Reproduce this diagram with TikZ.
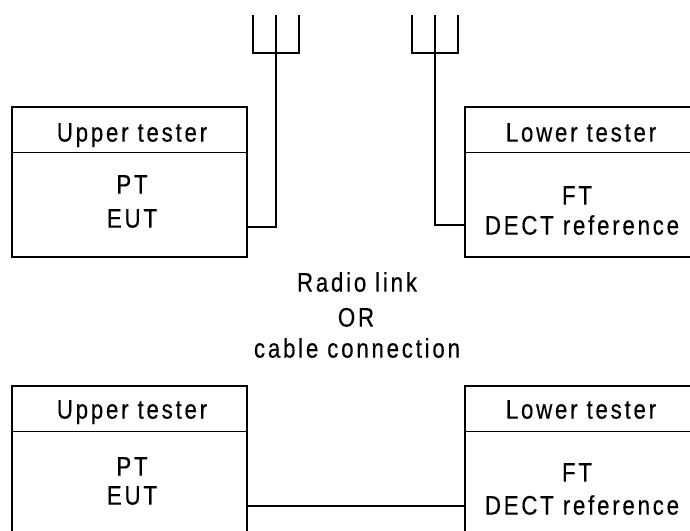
\documentclass[tikz,border=0pt]{standalone}
\usepackage{fontspec}
\setmainfont{Liberation Sans}[LetterSpace=10.4,FakeStretch=0.83,FakeBold=0.4]
\begin{document}
\begin{tikzpicture}[x=1pt,y=-1pt,
  wire/.style={line width=1.6pt,line cap=butt},
  testerbox/.style={draw,line width=1.6pt,minimum width=235pt,minimum height=150pt,anchor=north west,inner sep=0pt,outer sep=0pt},
  lbl/.style={anchor=base,inner sep=0pt,font=\fontsize{26.8}{33}\selectfont}]
\useasboundingbox (0,0) rectangle (690,530);
\clip (0,0) rectangle (690,530);
% boxes
\node[testerbox] (tl) at (12,107) {};
\node[testerbox] (tr) at (465,107) {};
\node[testerbox,minimum height=170pt] (bl) at (12,386) {};
\node[testerbox,minimum height=170pt] (br) at (465,386) {};
\foreach \b in {tl,tr,bl,br}
  \draw[wire] ([yshift=-45.5pt]\b.north west) -- ([yshift=-45.5pt]\b.north east);
% texts
\node[lbl] (tlh) at (132,141.6) {Upper tester};
\node[lbl] (tl1) at (132,193.6) {PT};
\node[lbl] (tl2) at (132,227.6) {EUT};
\node[lbl] (trh) at (581,141.6) {Lower tester};
\node[lbl] (tr1) at (577,204.6) {FT};
\node[lbl] (tr2) at (582,234.6) {DECT reference};
\node[lbl] (m1) at (357,291.6) {Radio link};
\node[lbl] (m2) at (356,326.6) {OR};
\node[lbl] (m3) at (357,357.6) {cable connection};
\node[lbl] (blh) at (132,418.6) {Upper tester};
\node[lbl] (bl1) at (132,475.6) {PT};
\node[lbl] (bl2) at (132,504.6) {EUT};
\node[lbl] (brh) at (581,418.6) {Lower tester};
\node[lbl] (br1) at (577,481.6) {FT};
\node[lbl] (br2) at (582,514.6) {DECT reference};
% antennas
\coordinate (la) at (276,53);
\coordinate (lb) at (276,227);
\coordinate (ra) at (435,53);
\coordinate (rb) at (435,225);
\draw[wire] (253,15) -- (253,53) -- (299,53) -- (299,15);
\draw[wire] (276,15) -- (la);
\draw[wire] (412,15) -- (412,53) -- (458,53) -- (458,15);
\draw[wire] (435,15) -- (ra);
\draw[wire] (la) -- (lb) -- (lb -| tl.east);
\draw[wire] (ra) -- (rb) -- (rb -| tr.west);
% cable
\coordinate (cab) at (300,506);
\draw[wire] (cab -| bl.east) -- (cab -| br.west);
\end{tikzpicture}
\end{document}
